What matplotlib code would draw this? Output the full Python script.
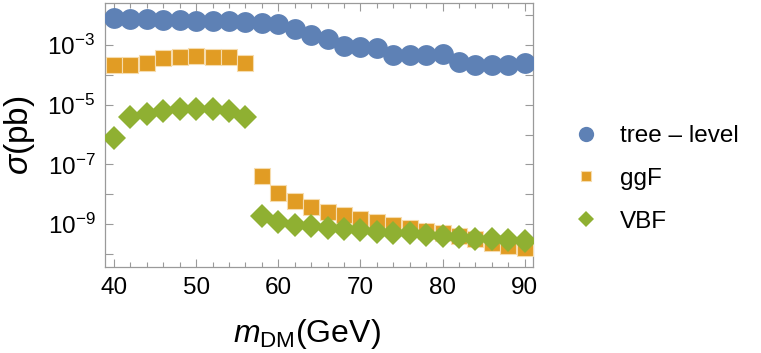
import numpy as np
import matplotlib
matplotlib.use("Agg")
import matplotlib.pyplot as plt
from matplotlib.ticker import FixedLocator, MultipleLocator, FuncFormatter

plt.rcParams['font.family'] = ['Liberation Sans', 'DejaVu Sans']
plt.rcParams['mathtext.fontset'] = 'custom'
plt.rcParams['mathtext.rm'] = 'Liberation Sans'
plt.rcParams['mathtext.it'] = 'Liberation Sans:italic'
plt.rcParams['mathtext.bf'] = 'Liberation Sans:bold'

# ---- data (log10 of sigma in pb) ----
m_dm = [40, 42, 44, 46, 48, 50, 52, 54, 56, 58, 60, 62, 64, 66, 68, 70, 72, 74, 76,
        78, 80, 82, 84, 86, 88, 90]
tree_log = [-2.11, -2.14, -2.15, -2.17, -2.18, -2.20, -2.20, -2.20, -2.22, -2.26,
            -2.30, -2.47, -2.67, -2.80, -3.03, -3.07, -3.10, -3.33, -3.33, -3.33,
            -3.30, -3.57, -3.67, -3.67, -3.67, -3.60]
ggf_log = [-3.69, -3.66, -3.61, -3.44, -3.39, -3.36, -3.39, -3.42, -3.61, -7.39,
           -7.94, -8.22, -8.41, -8.59, -8.70, -8.83, -8.92, -9.02, -9.12, -9.23,
           -9.30, -9.40, -9.50, -9.63, -9.72, -9.80]
vbf_log = [-6.10, -5.41, -5.32, -5.20, -5.15, -5.15, -5.15, -5.20, -5.40, -8.72,
           -8.92, -9.03, -9.06, -9.13, -9.17, -9.19, -9.26, -9.28, -9.30, -9.37,
           -9.39, -9.44, -9.48, -9.50, -9.52, -9.56]
labels = ["tree \u2013 level", "ggF", "VBF"]
x_ticks = [40, 50, 60, 70, 80, 90]
y_major_exp = [-9, -7, -5, -3]
y_minor_exp = [-10, -8, -6, -4, -2]

tree = 10.0 ** np.array(tree_log)
ggf = 10.0 ** np.array(ggf_log)
vbf = 10.0 ** np.array(vbf_log)

c_blue = '#5E81B5'
c_orange = '#E19C24'
c_green = '#8FB032'
frame = '#9a9a9a'

fig = plt.figure(figsize=(7.61, 3.53), dpi=100)
ax = fig.add_axes([105/761, 1 - 267/353, (533-105)/761, (267-3)/353])

ax.plot(m_dm, tree, 'o', ms=15, color=c_blue, mec=c_blue, mew=0, label=labels[0], zorder=3)
ax.plot(m_dm, ggf, 's', ms=11.3, color=c_orange, mec='#f6dcae', mew=0.8, label=labels[1], zorder=4)
ax.plot(m_dm, vbf, 'D', ms=12, color=c_green, mec=c_green, mew=0, label=labels[2], zorder=5)

ax.set_yscale('log')
ax.set_xlim(38.9, 91.0)
ax.set_ylim(10**-10.43, 10**-1.6)

ax.xaxis.set_major_locator(FixedLocator(x_ticks))
ax.xaxis.set_minor_locator(MultipleLocator(2))
ax.yaxis.set_major_locator(FixedLocator([10.0**e for e in y_major_exp]))
ax.yaxis.set_minor_locator(FixedLocator([10.0**e for e in y_minor_exp]))
ax.yaxis.set_major_formatter(FuncFormatter(lambda v, p: r"$\mathregular{10^{%d}}$" % int(round(np.log10(v)))))
ax.yaxis.set_minor_formatter(FuncFormatter(lambda v, p: ""))

for s in ax.spines.values():
    s.set_color(frame)
    s.set_linewidth(0.9)
ax.tick_params(which='both', direction='in', top=True, right=True, color=frame,
               labelsize=17.5, labelcolor='black', width=0.8)
ax.tick_params(which='major', length=6, pad=7)
ax.tick_params(which='minor', length=3.5)
ax.tick_params(axis='y', which='minor', length=6)

ax.set_ylabel(r"$\sigma$(pb)", fontsize=24)
ax.yaxis.set_label_coords(-0.158, 0.5)
ax.set_xlabel(r"$m_{\mathregular{DM}}$(GeV)", fontsize=23)
ax.xaxis.set_label_coords(0.472, -0.19)

leg = ax.legend(loc='center left', bbox_to_anchor=(574/761, 1 - 179/353),
                bbox_transform=fig.transFigure, frameon=False, fontsize=17.5,
                handlelength=1.0, handletextpad=0.9, labelspacing=0.85,
                borderpad=0, borderaxespad=0)
for h, ms in zip(leg.legend_handles, [11, 7.5, 8]):
    h.set_markersize(ms)

fig.savefig('out.png', dpi=100)
